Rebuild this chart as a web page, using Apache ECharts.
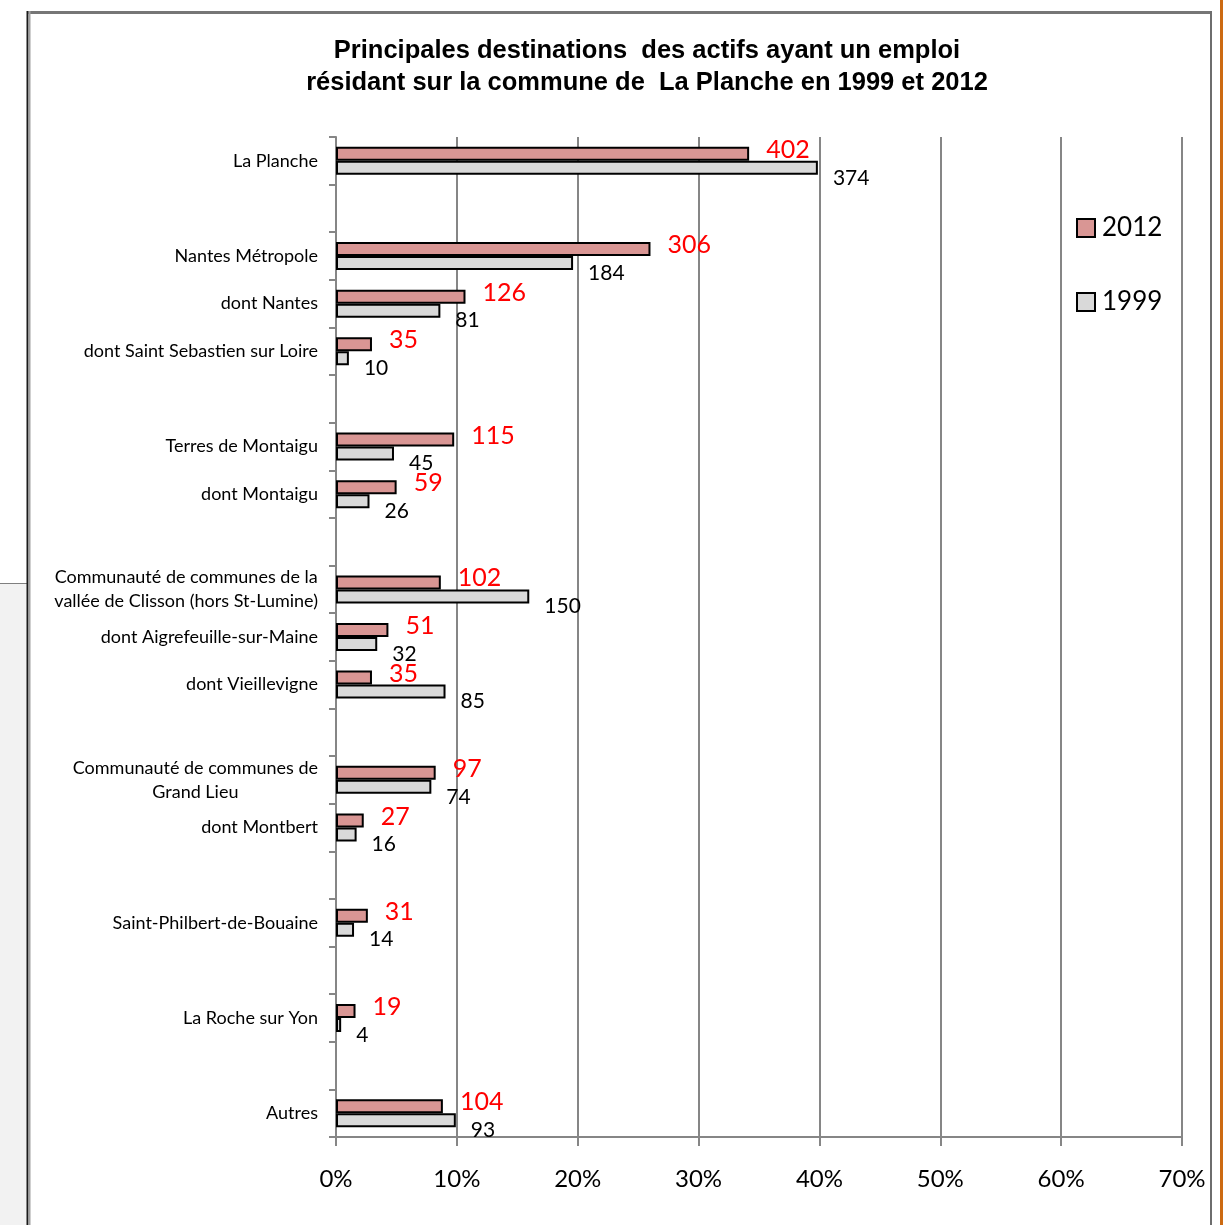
<!DOCTYPE html>
<html>
<head>
<meta charset="utf-8">
<script src="https://cdn.jsdelivr.net/npm/echarts@6/dist/echarts.min.js"></script>
<style>
  html, body { margin: 0; padding: 0; background: #ffffff; }
  #chart { width: 1223px; height: 1225px; }
</style>
</head>
<body>
<div id="chart"></div>
<script>
// Destinations (blank entries are spacer rows between groups)
const categories = [
  'La Planche', '',
  'Nantes Métropole', 'dont Nantes', 'dont Saint Sebastien sur Loire', '',
  'Terres de Montaigu', 'dont Montaigu', '',
  'Communauté de communes de la\nvallée de Clisson (hors St-Lumine)', 'dont Aigrefeuille-sur-Maine', 'dont Vieillevigne', '',
  'Communauté de communes de\nGrand Lieu', 'dont Montbert', '',
  'Saint-Philbert-de-Bouaine', '',
  'La Roche sur Yon', '',
  'Autres'
];

// Number of working residents per destination
const actifs2012 = [402, null, 306, 126, 35, null, 115, 59, null, 102, 51, 35, null, 97, 27, null, 31, null, 19, null, 104];
const actifs1999 = [374, null, 184, 81, 10, null, 45, 26, null, 150, 32, 85, null, 74, 16, null, 14, null, 4, null, 93];

const xTicks = [0, 10, 20, 30, 40, 50, 60, 70];

// Totals use only the top-level destinations ("dont ..." rows are subsets)
function total(values) {
  return values.reduce((s, v, i) =>
    (v == null || categories[i].startsWith('dont ')) ? s : s + v, 0);
}
const total2012 = total(actifs2012);
const total1999 = total(actifs1999);
const share = (values, t) => values.map(v => v == null ? null : v / t * 100);

const LABEL_FONT = 'Lato, "Open Sans", sans-serif';
const GRID_GREY = '#868686';

const chart = echarts.init(document.getElementById('chart'), null, { renderer: 'canvas' });

chart.setOption({
  backgroundColor: '#ffffff',
  animation: false,
  title: {
    text: 'Principales destinations  des actifs ayant un emploi\nrésidant sur la commune de  La Planche en 1999 et 2012',
    left: 642,
    top: 30,
    textAlign: 'center',
    textStyle: {
      fontFamily: '"Liberation Sans", Arial, sans-serif',
      fontWeight: 'bold',
      fontSize: 25.5,
      lineHeight: 32,
      color: '#000000'
    }
  },
  legend: {
    orient: 'vertical',
    left: 1071,
    top: 209,
    itemWidth: 18,
    itemHeight: 18,
    itemGap: 46,
    icon: 'rect',
    textStyle: { fontFamily: LABEL_FONT, fontSize: 26, color: '#000000', lineHeight: 28, padding: [0, 0, 0, 2] },
    data: ['2012', '1999']
  },
  grid: { left: 336, right: 41, top: 137, bottom: 88, containLabel: false },
  xAxis: {
    type: 'value',
    min: xTicks[0],
    max: xTicks[xTicks.length - 1],
    interval: 10,
    axisLine: { show: true, lineStyle: { color: GRID_GREY, width: 2 } },
    axisTick: { show: true, length: 9, lineStyle: { color: GRID_GREY, width: 2 } },
    splitLine: { show: true, lineStyle: { color: GRID_GREY, width: 2 } },
    axisLabel: {
      margin: 30,
      fontFamily: LABEL_FONT,
      fontSize: 24,
      color: '#000000',
      formatter: v => v + '%'
    }
  },
  yAxis: {
    type: 'category',
    inverse: true,
    data: categories,
    axisLine: { show: true, lineStyle: { color: GRID_GREY, width: 2 } },
    axisTick: { show: true, interval: 0, length: 7, lineStyle: { color: GRID_GREY, width: 2 } },
    splitLine: { show: false },
    axisLabel: {
      interval: 0,
      margin: 18,
      fontFamily: LABEL_FONT,
      fontSize: 18,
      color: '#000000',
      lineHeight: 24,
      formatter: v => v.indexOf('\n') >= 0
        ? v.split('\n').map(line => '{c|' + line + '}').join('\n')
        : v,
      rich: {
        c: { align: 'center', fontFamily: LABEL_FONT, fontSize: 18, lineHeight: 24, color: '#000000' }
      }
    }
  },
  series: [
    {
      name: '2012',
      type: 'bar',
      data: share(actifs2012, total2012),
      barWidth: 14,
      barGap: '0%',
      itemStyle: { color: '#d99694', borderColor: '#000000', borderWidth: 2 },
      label: {
        show: true,
        position: 'right',
        distance: 17,
        offset: [0, -4],
        fontFamily: LABEL_FONT,
        fontSize: 25,
        color: '#ff0000',
        formatter: p => String(actifs2012[p.dataIndex])
      }
    },
    {
      name: '1999',
      type: 'bar',
      data: share(actifs1999, total1999),
      barWidth: 14,
      barGap: '0%',
      itemStyle: { color: '#d9d9d9', borderColor: '#000000', borderWidth: 2 },
      label: {
        show: true,
        position: 'right',
        distance: 15,
        offset: [0, 10],
        fontFamily: LABEL_FONT,
        fontSize: 21,
        color: '#000000',
        formatter: p => String(actifs1999[p.dataIndex])
      }
    }
  ],
  graphic: [
    // page background to the left of the chart frame
    { type: 'rect', z: -10, silent: true, shape: { x: 0, y: 583, width: 27, height: 642 }, style: { fill: '#f2f2f2' } },
    { type: 'line', z: 10, silent: true, shape: { x1: 0, y1: 583.5, x2: 27, y2: 583.5 }, style: { stroke: '#7f7f7f', lineWidth: 1 } },
    // chart frame
    { type: 'line', z: 10, silent: true, shape: { x1: 27, y1: 12.5, x2: 1212, y2: 12.5 }, style: { stroke: '#767676', lineWidth: 3 } },
    { type: 'line', z: 10, silent: true, shape: { x1: 27.5, y1: 11, x2: 27.5, y2: 1225 }, style: { stroke: '#1a1a1a', lineWidth: 2 } },
    { type: 'line', z: 10, silent: true, shape: { x1: 29.5, y1: 11, x2: 29.5, y2: 1225 }, style: { stroke: '#a0a0a0', lineWidth: 2 } },
    { type: 'line', z: 10, silent: true, shape: { x1: 1211, y1: 11, x2: 1211, y2: 1225 }, style: { stroke: '#6e6e6e', lineWidth: 2 } },
    { type: 'line', z: 10, silent: true, shape: { x1: 1221.5, y1: 0, x2: 1221.5, y2: 1225 }, style: { stroke: '#cc6a12', lineWidth: 3 } }
  ]
});
</script>
</body>
</html>
